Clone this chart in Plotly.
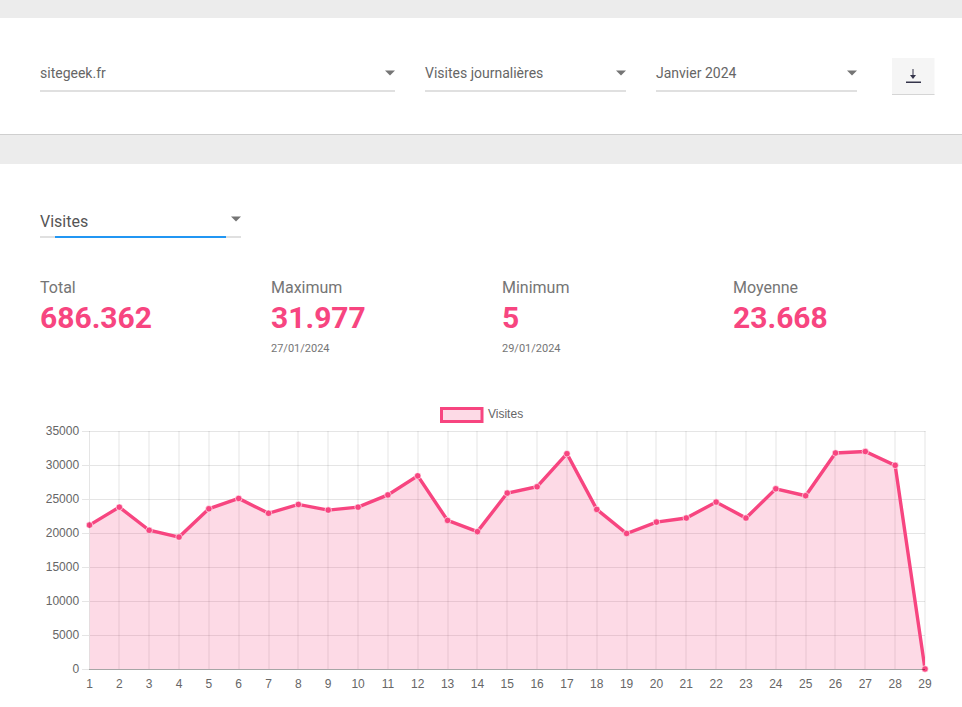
import plotly.graph_objects as go

# ---- data ----
days = list(range(1, 30))
visits = [21160, 23800, 20400, 19400, 23560, 25080, 22900, 24200, 23370, 23800,
          25600, 28400, 21850, 20200, 25870, 26800, 31660, 23470, 19930, 21600,
          22200, 24550, 22200, 26500, 25480, 31760, 31977, 29950, 5]
y_ticks = [0, 5000, 10000, 15000, 20000, 25000, 30000, 35000]
series_name = "Visites"
selects = ["sitegeek.fr", "Visites journalières", "Janvier 2024"]
stat_labels = ["Total", "Maximum", "Minimum", "Moyenne"]
stat_values = ["686.362", "31.977", "5", "23.668"]
stat_dates = ["", "27/01/2024", "29/01/2024", ""]

W, H = 962, 707
PINK = "#f74580"
FILL = "rgba(247,69,128,0.2)"
GRID = "rgba(0,0,0,0.1)"
GRID_X = "rgba(0,0,0,0.05)"


def px(x):
    return x / W


def py(y):
    return 1 - y / H


shapes = []
annotations = []


def rect(x0, y0, x1, y1, fill, line=None, lw=0):
    shapes.append(dict(type="rect", xref="paper", yref="paper", layer="below",
                       x0=px(x0), x1=px(x1), y0=py(y0), y1=py(y1),
                       fillcolor=fill, line=dict(color=line or fill, width=lw)))


def label(x, y, text, size, color, font="Roboto", anchor="left", bold=False):
    annotations.append(dict(xref="paper", yref="paper", x=px(x), y=py(y), text=f"<b>{text}</b>" if bold else text,
                            showarrow=False, xanchor=anchor, yanchor="middle", xshift=0,
                            font=dict(family=font, size=size, color=color), borderpad=0, borderwidth=0))


def caret(cx, cy):
    d = (f"M {px(cx-5)} {py(cy-2.5)} L {px(cx+5)} {py(cy-2.5)} L {px(cx)} {py(cy+2.5)} Z")
    shapes.append(dict(type="path", xref="paper", yref="paper", path=d, fillcolor="#757575",
                       line=dict(width=0), layer="below"))


# page bands
rect(0, 0, W, 18, "#ececec")
rect(0, 135, W, 164, "#ececec")
rect(0, 134, W, 135, "#cfcfcf")

# top selects
for text, x0, x1 in zip(selects, [40, 425, 656], [395, 626, 857]):
    label(x0, 73, text, 14, "#666666")
    rect(x0, 90, x1, 92, "#e0e0e0")
    caret(x1 - 5, 73)

# download button
rect(892, 58, 934.5, 95, "#f5f5f5")
rect(892, 94, 934.5, 95, "#d5d5d5")
rect(906, 81.5, 921, 83, "#34344a")
rect(912.5, 69, 913.5, 77, "#34344a")
shapes.append(dict(type="path", xref="paper", yref="paper",
                   path=f"M {px(910)} {py(75)} L {px(916)} {py(75)} L {px(913)} {py(79)} Z",
                   fillcolor="#34344a", line=dict(width=0), layer="below"))

# metric select
label(40, 221, series_name, 16, "#555555")
rect(40, 236, 241, 238, "#e0e0e0")
rect(55, 236, 226, 238, "#2196f3")
caret(236, 219)

# stats
for x, a, b, c in zip([40, 271, 502, 733], stat_labels, stat_values, stat_dates):
    label(x, 287, a, 16, "#757575")
    label(x, 317, b, 30, PINK, bold=True)
    if c:
        label(x, 348, c, 11, "#757575")

# legend swatch
rect(441.5, 408.5, 482, 421.5, FILL, PINK, 3)
label(488, 414, series_name, 12, "#666666", font="Liberation Sans")

# chart frame: top and right edges
rect(89, 431, 925.5, 432, GRID)
rect(924, 431, 926, 669, GRID_X)

fig = go.Figure(go.Scatter(
    x=days, y=visits, mode="lines+markers", name=series_name, fill="tozeroy",
    fillcolor=FILL, line=dict(color=PINK, width=3.4),
    marker=dict(size=6.5, color=PINK, line=dict(color="rgba(255,255,255,0.6)", width=1)),
    cliponaxis=False, showlegend=False,
))
fig.update_layout(
    width=W, height=H, margin=dict(l=0, r=0, t=0, b=0, autoexpand=False),
    paper_bgcolor="white", plot_bgcolor="rgba(0,0,0,0)",
    shapes=shapes, annotations=annotations, showlegend=False,
    font=dict(family="Liberation Sans", size=12, color="#666666"),
)
fig.update_xaxes(domain=[px(89.5), px(925)], range=[1, 29], tickmode="array", tickvals=days,
                 showgrid=True, gridcolor=GRID_X, gridwidth=2, zeroline=False,
                 showline=True, linecolor="rgba(0,0,0,0.35)", mirror=False,
                 ticks="", ticklen=0, ticklabelstandoff=4, tickformat="d",
                 tickfont=dict(size=12, color="#666666"))
fig.update_yaxes(domain=[py(669), py(431)], range=[0, 35000], tickmode="array", tickvals=y_ticks,
                 showgrid=True, gridcolor=GRID, gridwidth=1, zeroline=False,
                 showline=True, linecolor=GRID, ticks="outside", ticklen=7, tickcolor=GRID,
                 tickformat="d", ticklabelstandoff=0,
                 tickfont=dict(size=12, color="#666666"))

fig.write_html("out.html", config=dict(displayModeBar=False),
               post_script="document.body.style.margin='0';document.body.style.overflow='hidden';")
